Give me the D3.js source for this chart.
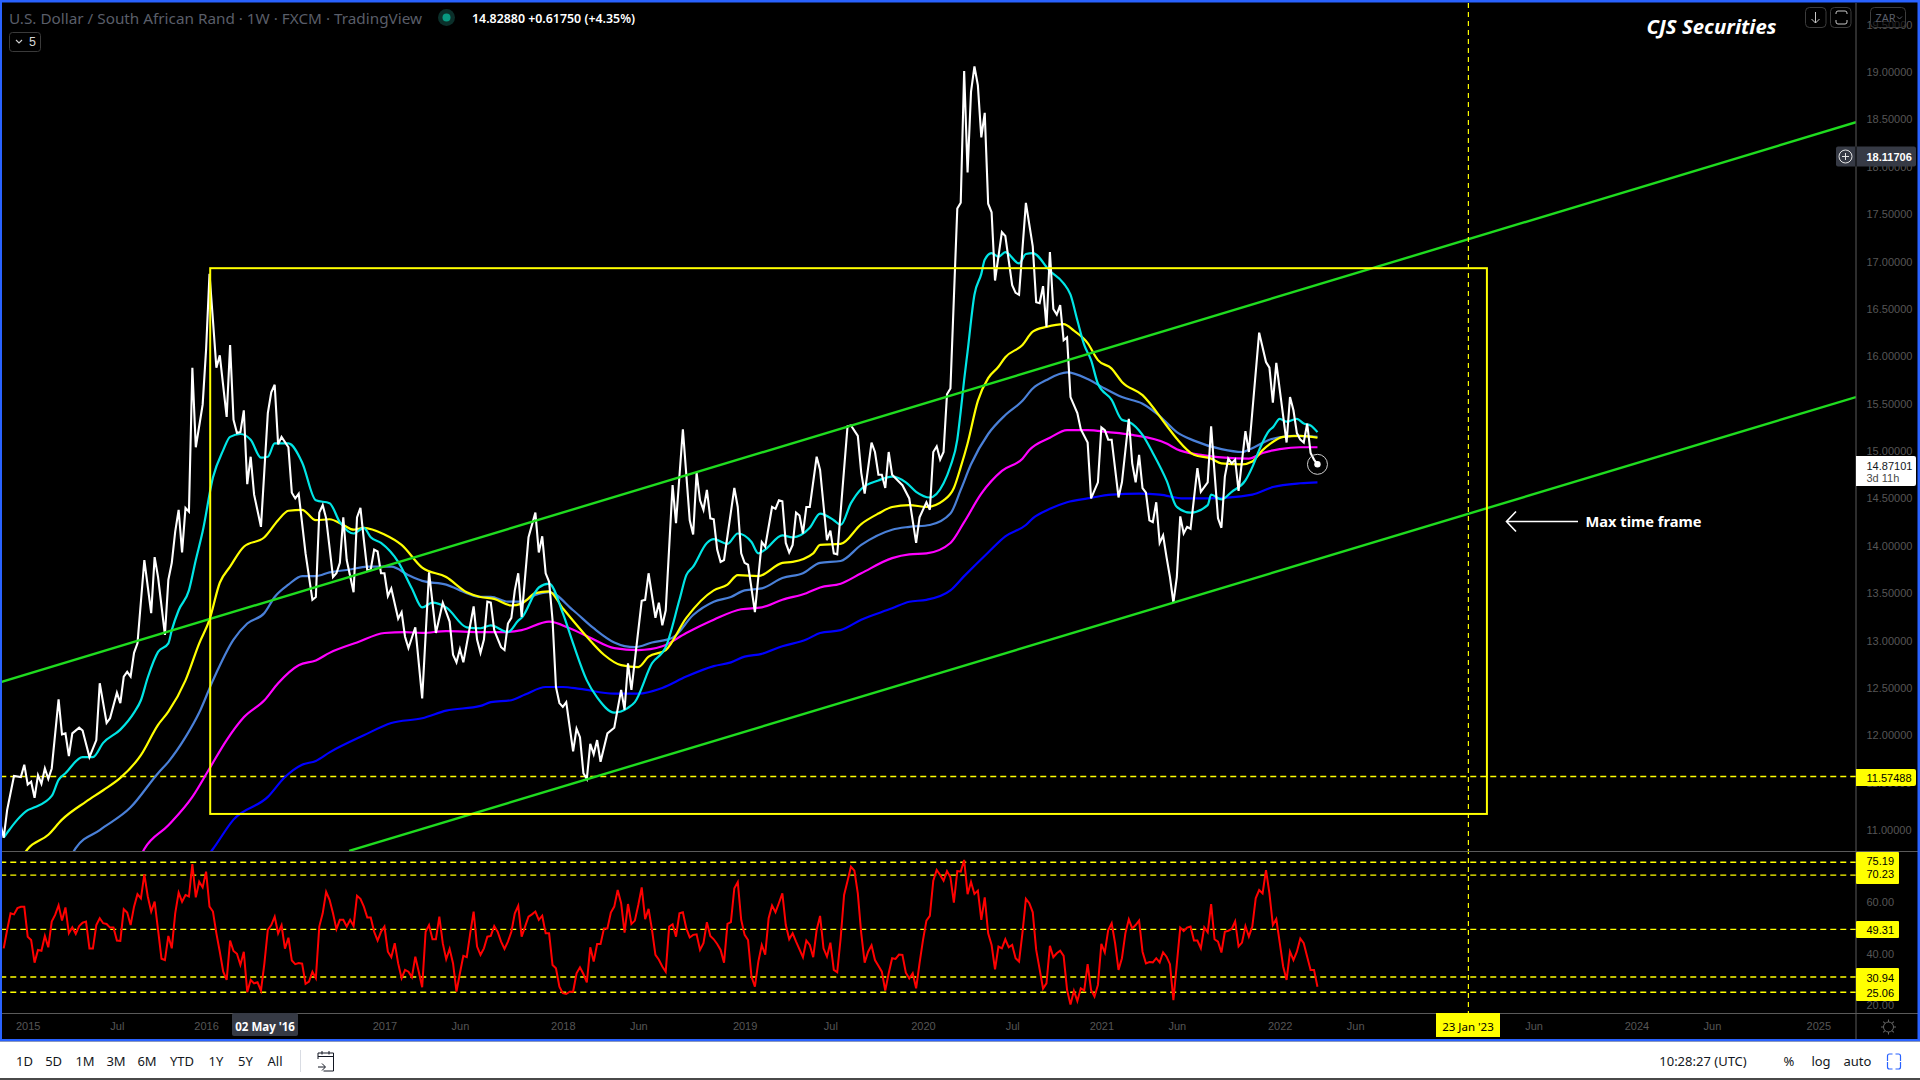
<!DOCTYPE html>
<html><head><meta charset="utf-8"><title>USD/ZAR</title>
<script src="https://cdnjs.cloudflare.com/ajax/libs/d3/7.8.5/d3.min.js"></script>
<style>html,body{margin:0;padding:0;background:#000;overflow:hidden}svg{display:block}text{font-family:"Noto Sans",sans-serif}</style>
</head><body><svg id="c" width="1920" height="1080"></svg>
<script>
const priceWeeks=[-1,0,1,3,5,6,7,8,9,10,11,12,13,14,16,17,18,19,20,22,23,25,27,28,30,31,33,34,35,36,37,38,39,41,43,44,45,47,48,49,50,51,52,53,54,55,56,58,59,60,61,62,63,65,66,67,68,69,70,71,72,73,75,77,78,79,80,81,83,84,85,86,88,90,91,92,93,94,96,97,98,99,100,102,103,104,105,106,107,108,109,110,111,112,113,115,116,117,118,120,122,124,126,128,130,131,132,133,134,137,138,139,140,141,142,143,145,146,147,148,149,150,151,153,155,156,157,158,159,160,161,162,163,164,165,166,167,168,169,170,171,172,173,174,176,178,180,181,182,183,186,187,188,190,191,192,193,195,196,198,200,201,202,203,204,205,206,207,208,209,210,213,214,215,216,217,219,221,222,224,225,226,227,228,229,230,231,232,233,234,235,237,238,240,241,242,243,246,247,249,250,251,253,254,255,256,257,258,259,262,264,266,267,269,270,271,272,273,274,275,276,278,279,280,281,282,283,284,285,286,287,288,289,291,292,294,295,296,298,300,301,302,303,304,305,306,307,308,309,310,311,313,314,316,317,319,320,321,322,323,325,326,328,329,330,331,332,333,334,335,336,337,338,339,340,341,342,343,344,345,346,348,349,351,352,353,354,355,356,357,358,359,360,362,363,366,368,369,370,371,374,375,376,377,378,379,380,381,382,383];
const priceValues=[11.08,10.93,11.22,11.58,11.57,11.70,11.49,11.52,11.35,11.59,11.50,11.66,11.55,11.66,12.39,12.02,12.03,11.79,12.03,12.09,12.06,11.78,11.96,12.56,12.14,12.19,12.46,12.35,12.63,12.68,12.63,12.88,12.98,13.86,13.30,13.89,13.68,13.07,13.65,13.83,14.16,14.39,13.94,14.41,14.37,15.89,15.05,15.50,16.08,16.88,16.39,15.89,16.02,15.37,16.13,15.34,15.20,15.21,15.44,14.66,14.95,14.55,14.21,15.41,15.63,15.71,15.08,15.16,15.05,14.57,14.51,14.56,13.93,13.44,13.47,14.36,14.44,14.30,13.68,13.72,13.83,14.31,13.86,13.52,14.31,14.41,14.07,13.75,13.76,13.97,13.95,13.72,13.72,13.48,13.56,13.24,13.31,13.05,12.93,13.15,12.40,13.73,13.09,13.41,13.21,12.86,12.78,12.92,12.78,13.37,13.02,12.88,13.02,13.42,13.41,13.12,12.94,12.91,13.19,13.25,13.54,13.72,13.26,14.10,14.36,13.94,14.11,13.72,13.63,13.23,12.52,12.35,12.31,12.36,12.10,11.84,12.08,11.99,11.61,11.55,11.92,11.81,11.96,11.73,12.03,12.09,12.49,12.28,12.77,12.49,13.43,13.44,13.72,13.25,13.41,13.17,13.33,14.65,14.25,15.24,14.28,14.13,14.78,14.49,14.39,14.60,14.30,14.29,13.97,13.84,13.86,14.62,14.42,13.93,13.83,13.81,13.31,14.05,14.00,14.42,14.40,14.49,14.48,14.04,13.94,14.02,14.36,14.33,14.14,14.42,14.42,14.95,14.81,14.07,14.17,13.93,13.92,15.27,15.28,15.17,14.78,14.56,15.10,15.00,14.76,14.76,14.62,15.00,14.76,14.65,14.51,14.04,14.31,14.47,14.39,15.00,15.06,14.92,15.00,15.61,15.67,17.57,17.63,19.02,17.95,18.80,19.07,18.87,18.32,18.58,17.62,17.53,16.81,17.32,17.28,16.76,16.68,16.66,17.63,17.17,16.58,16.57,16.75,16.32,17.11,16.51,16.45,16.55,16.18,16.21,15.58,15.41,15.24,15.10,14.51,14.68,15.26,15.23,15.13,15.13,14.52,14.68,15.35,14.88,14.68,14.97,14.62,14.57,14.28,14.26,14.47,14.04,14.12,13.89,13.68,13.41,13.68,14.32,14.14,14.21,14.19,14.83,14.58,14.68,15.27,14.78,14.30,14.20,14.74,14.93,14.88,14.92,14.59,15.22,15.00,16.26,15.95,15.89,15.52,15.94,15.10,15.58,15.44,15.20,15.13,15.10,15.30,14.99,14.92,14.87];

const cyanWeeks=[0,1,4,7,9,14,16,18,23,26,29,34,38,40,42,45,48,49,51,54,56,58,61,64,66,69,72,75,77,79,83,87,91,95,98,102,105,107,110,115,119,122,125,129,135,139,142,147,150,151,156,159,163,166,170,173,178,182,184,189,193,197,199,201,205,207,211,214,218,220,222,227,230,235,238,242,244,247,250,255,259,263,266,270,274,276,278,279,280,281,283,285,286,288,290,292,296,298,300,305,309,311,313,315,317,319,323,326,328,332,335,339,342,346,351,352,355,358,362,364,366,369,370,372,374,377,379,381,383];
const cyanValues=[10.93,10.98,11.12,11.22,11.25,11.37,11.54,11.61,11.78,11.78,11.93,12.07,12.25,12.38,12.62,12.89,12.98,13.12,13.33,13.54,13.86,14.16,14.73,15.02,15.16,15.19,15.13,14.94,14.95,15.09,15.09,14.89,14.49,14.46,14.26,14.14,14.20,14.10,14.04,13.84,13.56,13.36,13.41,13.36,13.15,13.14,13.17,13.10,13.22,13.25,13.57,13.61,13.30,12.98,12.59,12.41,12.25,12.30,12.36,12.77,12.94,13.44,13.70,13.79,14.04,14.08,14.03,14.14,14.05,13.93,13.97,14.12,14.10,14.20,14.35,14.28,14.23,14.46,14.61,14.70,14.74,14.68,14.58,14.52,14.67,14.85,15.13,15.43,15.76,16.06,16.66,16.88,17.03,17.10,17.06,17.11,16.99,17.09,17.10,16.91,16.78,16.66,16.39,16.13,15.97,15.72,15.55,15.34,15.32,15.18,14.99,14.70,14.42,14.36,14.44,14.55,14.50,14.58,14.70,14.84,15.02,15.23,15.26,15.35,15.32,15.35,15.30,15.28,15.21];

const yellowWeeks=[5,7,13,17,24,29,34,40,45,48,53,57,60,63,66,70,76,80,83,87,91,95,99,102,105,111,116,122,129,135,139,143,148,151,155,159,163,170,175,180,185,188,193,199,207,211,214,220,227,230,236,238,244,250,255,259,264,269,274,277,279,281,284,287,290,292,297,300,304,309,312,316,319,323,326,332,339,342,347,352,355,361,364,367,369,373,378,383];
const yellowValues=[10.71,10.81,10.96,11.12,11.31,11.43,11.56,11.80,12.12,12.26,12.59,12.98,13.23,13.62,13.79,14.00,14.10,14.28,14.38,14.39,14.28,14.29,14.23,14.18,14.20,14.13,14.02,13.78,13.68,13.52,13.47,13.45,13.38,13.40,13.51,13.53,13.35,13.05,12.86,12.75,12.73,12.84,12.91,13.25,13.54,13.60,13.70,13.69,13.83,13.84,13.93,14.02,14.03,14.24,14.35,14.42,14.44,14.42,14.49,14.62,14.84,15.09,15.54,15.78,15.90,16.00,16.13,16.27,16.32,16.35,16.28,16.15,15.97,15.88,15.74,15.60,15.28,15.14,14.97,14.93,14.88,14.87,14.90,15.02,15.08,15.16,15.17,15.15];

const steelWeeks=[19,21,28,37,45,48,53,57,61,67,71,76,79,83,87,91,95,101,106,113,118,122,129,135,139,142,147,151,155,159,166,172,178,184,189,195,201,207,212,216,221,227,233,238,244,250,259,264,270,276,279,282,287,292,297,300,304,310,316,320,326,332,337,342,347,355,361,364,369,373,376,383];
const steelValues=[10.69,10.82,11.01,11.25,11.61,11.73,11.99,12.25,12.59,13.02,13.19,13.30,13.47,13.60,13.69,13.69,13.73,13.76,13.79,13.79,13.70,13.64,13.60,13.51,13.47,13.47,13.42,13.42,13.49,13.52,13.33,13.14,12.99,12.94,12.99,13.04,13.28,13.42,13.47,13.54,13.56,13.67,13.72,13.83,13.85,14.02,14.18,14.21,14.23,14.35,14.60,14.87,15.19,15.39,15.54,15.67,15.76,15.84,15.77,15.69,15.58,15.51,15.38,15.21,15.12,15.03,15.00,15.04,15.13,15.16,15.17,15.16];

const magentaWeeks=[39,41,48,55,60,65,70,76,80,86,91,95,103,111,117,122,129,139,146,151,159,165,171,178,185,192,199,207,215,221,227,234,238,244,250,259,264,269,276,280,285,291,297,299,305,310,316,322,329,339,342,349,356,363,367,372,378,383];
const magentaValues=[10.67,10.81,11.06,11.36,11.66,11.96,12.20,12.38,12.56,12.75,12.80,12.88,12.99,13.09,13.10,13.09,13.11,13.10,13.10,13.12,13.21,13.14,13.04,12.93,12.91,12.95,13.09,13.23,13.34,13.36,13.44,13.51,13.57,13.61,13.72,13.88,13.92,13.93,14.04,14.26,14.56,14.80,14.93,15.02,15.15,15.23,15.23,15.21,15.18,15.09,15.03,14.97,14.94,14.93,14.99,15.03,15.05,15.05];

const blueWeeks=[58,61,67,77,82,87,91,95,105,113,122,129,139,142,148,152,158,163,168,178,185,192,199,207,212,216,221,227,234,238,244,250,259,264,269,276,280,287,292,298,300,305,310,316,323,331,337,344,351,364,370,378,383];
const blueValues=[10.67,10.81,11.12,11.36,11.57,11.70,11.74,11.83,12.01,12.14,12.19,12.27,12.32,12.36,12.38,12.44,12.52,12.52,12.50,12.45,12.45,12.51,12.63,12.74,12.78,12.84,12.87,12.95,13.02,13.09,13.12,13.23,13.35,13.42,13.44,13.54,13.69,13.94,14.11,14.23,14.30,14.40,14.47,14.51,14.55,14.56,14.55,14.51,14.51,14.55,14.63,14.67,14.68];

const rsiValues=[42.0,49.1,55.5,55.1,57.5,58.0,58.0,46.5,45.2,36.5,41.4,41.1,46.8,42.4,52.3,54.9,58.6,52.7,57.8,47.8,50.1,47.6,50.6,51.9,52.3,41.9,41.9,51.0,53.6,51.7,51.4,50.0,50.0,45.0,44.9,57.1,55.8,51.0,58.1,62.9,61.3,70.5,62.0,56.2,60.0,49.1,38.0,37.5,46.8,42.0,55.5,63.5,60.0,62.6,62.0,74.5,61.7,67.7,65.5,71.6,58.1,56.2,47.8,40.7,33.0,29.8,45.0,41.0,39.9,35.6,40.7,25.1,29.8,28.5,28.9,25.7,36.2,49.1,51.0,54.2,47.8,50.9,41.9,46.1,37.3,35.9,36.3,36.1,28.3,29.2,33.0,30.5,50.4,55.5,63.8,60.7,55.5,49.4,53.0,53.0,50.4,53.0,50.6,62.3,61.1,58.1,53.9,53.9,48.4,45.0,48.4,50.4,40.7,38.6,44.0,36.2,30.5,33.7,33.0,30.9,38.8,33.0,27.0,48.4,51.0,45.5,45.5,54.2,44.0,37.8,41.8,36.2,25.3,32.4,39.1,38.6,47.8,56.2,42.7,39.5,42.0,46.5,46.8,50.6,48.4,44.6,41.8,44.6,48.4,55.5,58.4,46.5,50.4,54.2,55.1,56.2,53.0,54.6,47.8,47.8,35.6,34.3,27.2,24.7,24.4,25.3,25.3,32.4,34.7,32.1,28.9,42.4,36.9,43.7,43.7,49.7,49.7,55.8,58.1,64.5,59.4,48.1,59.1,51.4,52.7,58.7,65.5,53.3,57.2,49.1,39.5,37.6,35.0,33.0,50.4,51.3,46.5,55.5,55.9,49.7,46.2,47.2,47.4,41.4,44.0,52.1,46.8,45.5,43.7,41.4,36.5,51.4,52.1,65.2,67.6,53.0,47.2,45.2,31.1,27.2,36.9,43.3,39.6,53.6,58.5,55.9,59.5,63.2,51.0,45.5,47.8,44.6,41.6,38.6,45.0,43.3,38.6,49.1,54.5,42.0,38.8,44.2,33.7,32.8,45.9,62.6,68.0,73.5,72.0,63.2,47.8,36.5,40.7,43.2,37.5,35.3,33.0,25.7,32.4,38.2,37.9,39.6,39.5,32.6,30.4,32.4,26.6,36.3,45.2,52.7,54.5,68.1,72.2,70.3,68.1,71.8,69.4,59.6,71.8,71.6,76.1,62.9,67.6,63.0,64.3,53.0,61.7,47.8,43.3,33.9,42.7,42.0,45.5,42.4,43.3,38.2,36.9,48.0,61.1,59.4,55.9,41.4,34.0,26.5,28.5,43.0,38.6,40.1,41.1,39.1,26.0,20.3,25.6,21.7,26.6,25.7,35.9,26.0,23.4,27.9,43.7,40.4,49.1,51.7,44.0,33.7,38.2,47.8,53.2,49.7,51.0,52.7,40.7,36.2,36.7,36.6,38.2,36.6,40.5,38.8,35.9,22.0,36.0,50.0,48.7,50.0,50.4,45.0,45.0,42.0,50.1,48.2,59.1,45.5,44.6,40.4,48.4,48.8,49.5,52.4,42.7,44.2,50.6,46.5,50.4,61.3,64.5,63.2,72.2,63.2,51.0,53.3,44.2,35.0,29.8,40.7,37.5,40.7,45.8,44.0,38.8,33.7,33.7,27.2];

const priceTicks=[11,11.5,12,12.5,13,13.5,14,14.5,15,15.5,16,16.5,17,17.5,18,18.5,19,19.5];
const rsiTicks=[20,40,60];
const timeTickWeeks=[7,33,59,111,133,163,185,216,241,268,294,320,342,372,394,446,476,498,529];
const timeTickLabels=["2015","Jul","2016","2017","Jun","2018","Jun","2019","Jul","2020","Jul","2021","Jun","2022","Jun","Jun","2024","Jun","2025"];
const rsiLevels=[75.19,70.23,49.31,30.94,25.06];
const supportLevel=11.57488;
const channelWeeks=[[-1,540],[100.7,540]];
const channelPrices=[[12.57,18.48],[10.79,15.58]];
const boxWeeks=[60.2,432.4];
const boxPrices=[11.18,16.94];
const crossWeek=427;
const cursorWeek=76.2;
const rangeButtons=["1D","5D","1M","3M","6M","YTD","1Y","5Y","All"];
const rangeButtonX=[24.5,53.6,85,116,147,182,216,245.5,275];

const svg=d3.select("#c");
const NUM='"Liberation Sans",Arial,sans-serif';
const x=d3.scaleLinear().domain([-1,540]).range([0.27,1856]);
const yP=d3.scaleLinear().domain([11,19]).range([831,73]);
const yR=d3.scaleLinear().domain([20,75.19]).range([1005.4,862.3]);
const defs=svg.append("defs");
defs.append("clipPath").attr("id","cp").append("rect").attr("x",2).attr("y",2).attr("width",1854).attr("height",849);
defs.append("clipPath").attr("id","cr").append("rect").attr("x",2).attr("y",852).attr("width",1854).attr("height",161);

svg.append("rect").attr("width",1920).attr("height",1080).attr("fill","#000");
const price=svg.append("g").attr("clip-path","url(#cp)");
const rsi=svg.append("g").attr("clip-path","url(#cr)");
const line=d3.line().x(d=>x(d[0])).y(d=>yP(d[1]));
const smooth=d3.line().x(d=>x(d[0])).y(d=>yP(d[1])).curve(d3.curveMonotoneX);
const zip=(a,b)=>a.map((v,i)=>[v,b[i]]);

// guides
price.append("line").attr("x1",x(-1)).attr("x2",1856).attr("y1",yP(supportLevel)).attr("y2",yP(supportLevel))
 .attr("stroke","#ffff00").attr("stroke-width",1.4).attr("stroke-dasharray","6 4");
const series=[
 {w:blueWeeks,v:blueValues,c:"#0000ff"},
 {w:magentaWeeks,v:magentaValues,c:"#ff00ff"},
 {w:steelWeeks,v:steelValues,c:"#4a80d8"},
 {w:yellowWeeks,v:yellowValues,c:"#ffff00"},
 {w:cyanWeeks,v:cyanValues,c:"#00e5e5"},
];
price.selectAll("path.ma").data(series).join("path").attr("class","ma")
 .attr("d",s=>smooth(zip(s.w,s.v))).attr("fill","none").attr("stroke",s=>s.c).attr("stroke-width",2.2);
price.append("path").attr("d",line(zip(priceWeeks,priceValues))).attr("fill","none").attr("stroke","#ffffff").attr("stroke-width",2.1);
price.selectAll("path.ch").data(channelWeeks).join("path").attr("class","ch")
 .attr("d",(w,i)=>line(zip(w,channelPrices[i]))).attr("fill","none").attr("stroke","#1fdc1f").attr("stroke-width",2.4);
price.append("rect").attr("x",x(boxWeeks[0])).attr("y",yP(boxPrices[1]))
 .attr("width",x(boxWeeks[1])-x(boxWeeks[0])).attr("height",yP(boxPrices[0])-yP(boxPrices[1]))
 .attr("fill","none").attr("stroke","#ffff00").attr("stroke-width",2);

// last price marker
const lastW=priceWeeks[priceWeeks.length-1],lastP=priceValues[priceValues.length-1];
price.append("circle").attr("cx",x(lastW)).attr("cy",yP(lastP)).attr("r",10).attr("fill","none").attr("stroke","#cfcfcf").attr("stroke-width",1);
price.append("circle").attr("cx",x(lastW)).attr("cy",yP(lastP)).attr("r",3.2).attr("fill","#fff");

// RSI
rsi.selectAll("line.lv").data(rsiLevels).join("line").attr("class","lv").attr("x1",x(-1)).attr("x2",1856)
 .attr("y1",d=>yR(d)).attr("y2",d=>yR(d)).attr("stroke","#ffff00").attr("stroke-width",1.4).attr("stroke-dasharray","6 4");
rsi.append("path").attr("d",d3.line().x((d,i)=>x(i)).y(d=>yR(d))(rsiValues)).attr("fill","none").attr("stroke","#ff0000").attr("stroke-width",2);

// crosshair vertical
svg.append("line").attr("x1",x(crossWeek)).attr("x2",x(crossWeek)).attr("y1",3).attr("y2",1013)
 .attr("stroke","#ffff00").attr("stroke-width",1.2).attr("stroke-dasharray","5 4");

// pane rules
const rule="#5a5a5a";
svg.append("line").attr("x1",1856).attr("x2",1856).attr("y1",3).attr("y2",1040).attr("stroke",rule).attr("stroke-width",1);
svg.append("line").attr("x1",2).attr("x2",1918).attr("y1",851.5).attr("y2",851.5).attr("stroke",rule).attr("stroke-width",1);
svg.append("line").attr("x1",2).attr("x2",1918).attr("y1",1013.5).attr("y2",1013.5).attr("stroke",rule).attr("stroke-width",1);

// axes
const axisTxt="#565656";
function styleAxis(g){g.select(".domain").remove();g.selectAll("line").remove();
 g.selectAll("text").attr("fill",axisTxt).style("font-family",NUM).style("font-size","11px");}
svg.append("g").attr("transform","translate(1856,-1)")
 .call(d3.axisRight(yP).tickValues(priceTicks).tickFormat(d3.format(".5f")).tickSize(0).tickPadding(10.5)).call(styleAxis);
svg.append("g").attr("transform","translate(1856,0)")
 .call(d3.axisRight(yR).tickValues(rsiTicks).tickFormat(d3.format(".2f")).tickSize(0).tickPadding(10.5)).call(styleAxis);
svg.append("g").attr("transform","translate(0,1013)")
 .call(d3.axisBottom(x).tickValues(timeTickWeeks).tickFormat((d,i)=>timeTickLabels[i]).tickSize(0).tickPadding(9.5)).call(styleAxis)
 .call(g=>g.selectAll("text").style("font-size","11px"));

// axis badges
function badge(x0,y0,w,h,fill,label,tx,ty,color,weight){
 svg.append("path").attr("d",`M${x0},${y0}h${w-2}q2,0 2,2v${h-4}q0,2 -2,2h${-(w-2)}z`).attr("fill",fill);
 if(label!=null)svg.append("text").attr("x",tx).attr("y",ty).attr("fill",color).attr("font-weight",weight||400)
  .style("font-family",NUM).style("font-size","11px").attr("dominant-baseline","central").text(label);
}
badge(1856,769,60,17,"#ffff00",supportLevel.toFixed(5),1866.5,777.5,"#000");
svg.append("rect").attr("x",1856).attr("y",852).attr("width",43).attr("height",32).attr("fill","#ffff00").attr("rx",1);
svg.append("rect").attr("x",1856).attr("y",921).attr("width",43).attr("height",17).attr("fill","#ffff00").attr("rx",1);
svg.append("rect").attr("x",1856).attr("y",968).attr("width",43).attr("height",33).attr("fill","#ffff00").attr("rx",1);
svg.selectAll("text.lv").data(rsiLevels).join("text").attr("class","lv").attr("x",1866.5).attr("y",d=>yR(d)+(d>60?-1:1))
 .attr("fill","#000").attr("dominant-baseline","central").style("font-family",NUM).style("font-size","11px").text(d=>d.toFixed(2));

// live price badge
svg.append("path").attr("d","M1856,456h58q2,0 2,2v26q0,2 -2,2h-58z").attr("fill","#ffffff");
svg.append("text").attr("x",1866.5).attr("y",465.5).attr("fill","#131722").attr("dominant-baseline","central").style("font-family",NUM).style("font-size","11px").text("14.87101");
svg.append("text").attr("x",1866.5).attr("y",478).attr("fill","#4a4a4a").attr("dominant-baseline","central").style("font-family",NUM).style("font-size","11px").text("3d 11h");
// cursor badge
svg.append("path").attr("d","M1838,146.5h76q2,0 2,2v16q0,2 -2,2h-76q-2,0 -2,-2v-16q0,-2 2,-2z").attr("fill","#363a45");
svg.append("text").attr("x",1866.5).attr("y",156.5).attr("fill","#fff").attr("font-weight",700).attr("dominant-baseline","central").style("font-family",NUM).style("font-size","11px").text("18.11706");
svg.append("line").attr("x1",1856).attr("x2",1856).attr("y1",146.5).attr("y2",166.5).attr("stroke","#000").attr("stroke-width",1);
svg.append("circle").attr("cx",1845.5).attr("cy",156.5).attr("r",6.5).attr("fill","none").attr("stroke","#e6e6e6").attr("stroke-width",1);
svg.append("path").attr("d","M1842,156.5h7M1845.5,153v7").attr("stroke","#e6e6e6").attr("stroke-width",1);

// time badges
svg.append("rect").attr("x",232).attr("y",1013).attr("width",66).attr("height",23).attr("rx",2).attr("fill","#363a45");
svg.append("text").attr("x",x(cursorWeek)).attr("y",1026).attr("text-anchor","middle").attr("dominant-baseline","central").attr("fill","#fff").attr("font-weight",700).style("font-size","11.5px").text("02 May '16");
svg.append("rect").attr("x",1436).attr("y",1013).attr("width",64).attr("height",24).attr("fill","#ffff00");
svg.append("text").attr("x",1468).attr("y",1026).attr("text-anchor","middle").attr("dominant-baseline","central").attr("fill","#000").style("font-size","11.5px").text("23 Jan '23");

// gear
const gear=svg.append("g").attr("transform","translate(1888.5,1027)").attr("stroke","#666").attr("fill","none");
gear.append("circle").attr("r",5);
gear.selectAll("line").data(d3.range(8)).join("line").attr("x1",5).attr("x2",7.5)
 .attr("transform",d=>`rotate(${d*45})`);

// header
svg.append("text").attr("x",9).attr("y",18).attr("dominant-baseline","central").attr("fill","#5a5e69").style("font-size","14px")
 .attr("textLength",413).attr("lengthAdjust","spacingAndGlyphs").text("U.S. Dollar / South African Rand · 1W · FXCM · TradingView");
svg.append("circle").attr("cx",446.5).attr("cy",17.5).attr("r",8.5).attr("fill","#0b2f2a");
svg.append("circle").attr("cx",446.5).attr("cy",17.5).attr("r",4).attr("fill","#089981");
svg.append("text").attr("x",472).attr("y",18).attr("dominant-baseline","central").attr("fill","#fff").attr("font-weight",600).style("font-size","12.5px")
 .attr("textLength",163).attr("lengthAdjust","spacingAndGlyphs").text("14.82880 +0.61750 (+4.35%)");
svg.append("rect").attr("x",9.5).attr("y",32.5).attr("width",31).attr("height",19).attr("rx",3).attr("fill","none").attr("stroke","#3a3a3a");
svg.append("path").attr("d","M16,40l3,3l3,-3").attr("fill","none").attr("stroke","#cfcfcf").attr("stroke-width",1.1);
svg.append("text").attr("x",29).attr("y",41.5).attr("dominant-baseline","central").attr("fill","#d8d8d8").style("font-family",NUM).style("font-size","12.5px").text("5");

// top-right buttons
[[1805,21],[1830,21]].forEach(b=>svg.append("rect").attr("x",b[0]+.5).attr("y",7.5).attr("width",b[1]-.5).attr("height",20).attr("rx",4).attr("fill","#000").attr("stroke","#3c3c3c"));
svg.append("path").attr("d","M1815.5,12v11M1811.5,19l4,4l4,-4").attr("fill","none").attr("stroke","#c8c8c8");
svg.append("path").attr("d","M1836,14v-1q0,-2 2,-2h7q2,0 2,2v1M1836,20v2q0,2 2,2h7q2,0 2,-2v-2").attr("fill","none").attr("stroke","#c8c8c8");
svg.append("rect").attr("x",1870.5).attr("y",7.5).attr("width",35).attr("height",20).attr("rx",4).attr("fill","rgba(0,0,0,.55)").attr("stroke","#3c3c3c");
svg.append("text").attr("x",1875.5).attr("y",17.5).attr("dominant-baseline","central").attr("fill","#5a5e69").style("font-size","11px").text("ZAR");
svg.append("path").attr("d","M1897,16.5l2.5,2.5l2.5,-2.5").attr("fill","none").attr("stroke","#5a5e69");

// annotations
svg.append("text").attr("x",1646.5).attr("y",26).attr("dominant-baseline","central").attr("fill","#fff").attr("font-weight",700).attr("font-style","italic").style("font-size","20px")
 .attr("textLength",130).attr("lengthAdjust","spacingAndGlyphs").text("CJS Securities");
svg.append("text").attr("x",1585.5).attr("y",521).attr("dominant-baseline","central").attr("fill","#fff").attr("font-weight",700).style("font-size","15px")
 .attr("textLength",116).attr("lengthAdjust","spacingAndGlyphs").text("Max time frame");
svg.append("path").attr("d","M1578,521.5H1506.5M1516,511.5L1506.5,521.5L1516,531.5").attr("fill","none").attr("stroke","#fff").attr("stroke-width",1.6);

// borders
const bc="#2962ff";
svg.append("rect").attr("x",0).attr("y",0).attr("width",1920).attr("height",2.5).attr("fill",bc);
svg.append("rect").attr("x",0).attr("y",0).attr("width",2).attr("height",1041).attr("fill",bc);
svg.append("rect").attr("x",1917.5).attr("y",0).attr("width",2.5).attr("height",1041).attr("fill",bc);
svg.append("rect").attr("x",0).attr("y",1039).attr("width",1920).attr("height",2.5).attr("fill",bc);

// bottom toolbar
svg.append("rect").attr("x",0).attr("y",1041.5).attr("width",1920).attr("height",36.5).attr("fill","#fff");
svg.append("rect").attr("x",0).attr("y",1078).attr("width",1920).attr("height",2).attr("fill","#4a4a4a");
const tb="#131722";
svg.selectAll("text.rb").data(rangeButtons).join("text").attr("class","rb").attr("x",(d,i)=>rangeButtonX[i]).attr("y",1061)
 .attr("text-anchor","middle").attr("dominant-baseline","central").attr("fill",tb).style("font-size","13px").text(d=>d);
svg.append("line").attr("x1",300.5).attr("x2",300.5).attr("y1",1050).attr("y2",1072).attr("stroke","#d9dce3");
svg.append("path").attr("d","M318,1059v-6h15.5v18h-10M318,1056.5h15.5M322,1051v3.5M329,1051v3.5M318,1067h7M322,1063.5l3.5,3.5l-3.5,3.5").attr("fill","none").attr("stroke",tb).attr("stroke-width",1);
[["10:28:27 (UTC)",1703],["%",1789],["log",1821],["auto",1857.5]].forEach(t=>
 svg.append("text").attr("x",t[1]).attr("y",1061).attr("text-anchor","middle").attr("dominant-baseline","central").attr("fill",tb).style("font-size","13px").text(t[0]));
svg.append("path").attr("d","M1887.5,1061v-5q0,-2 2,-2h3M1900.5,1061v-5q0,-2 -2,-2h-3M1887.5,1062v5q0,2 2,2h3M1900.5,1062v5q0,2 -2,2h-3").attr("fill","none").attr("stroke","#2962ff").attr("stroke-width",1.2);
</script></body></html>
